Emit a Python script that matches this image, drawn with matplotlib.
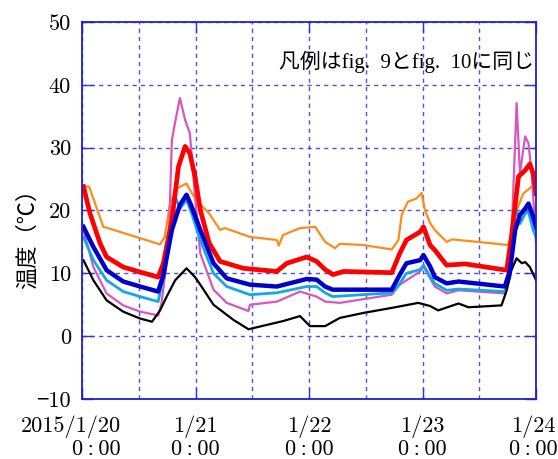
import matplotlib
matplotlib.use("Agg")
import matplotlib.pyplot as plt
import matplotlib.transforms as mtransforms

plt.rcParams["font.family"] = ["cmr10", "Noto Sans CJK JP", "DejaVu Serif"]
plt.rcParams["axes.unicode_minus"] = True

# hours since 2015/1/20 0:00, temperature in deg C
t_orange = [0.3, 1.5, 4.5, 5.9, 16.5, 17.5, 18.6, 20.0, 22.1, 22.8, 24.1, 26.9, 29.2, 30.2,
            35.5, 41.2, 41.6, 42.5, 46.1, 49.3, 50.7, 51.4, 53.5, 54.5, 59.5, 65.5, 66.9,
            67.6, 68.9, 70.7, 71.8, 72.5, 73.6, 74.6, 77.1, 78.2, 83.8, 90.1, 90.8, 91.9,
            93.3, 95.1, 96.0]
v_orange = [23.8, 23.8, 17.4, 17.1, 14.6, 15.8, 21.1, 23.5, 24.3, 23.3, 21.7, 19.5, 16.9, 17.2,
            15.8, 15.3, 14.4, 16.1, 17.2, 17.4, 15.8, 15.0, 14.0, 14.7, 14.5, 13.8, 15.3,
            19.3, 21.4, 21.9, 22.8, 20.1, 18.0, 16.9, 15.0, 15.4, 15.0, 14.5, 15.8, 20.0,
            22.7, 23.8, 24.0]

t_red = [0.3, 1.7, 3.8, 5.2, 8.7, 12.3, 16.1, 17.2, 19.0, 20.4, 21.8, 22.8, 23.9, 25.0,
         26.9, 29.2, 34.1, 41.2, 43.3, 47.5, 49.6, 51.4, 53.1, 55.3, 65.5, 67.2, 68.6,
         71.5, 72.2, 73.6, 74.6, 77.1, 81.0, 89.8, 90.8, 92.3, 93.0, 93.7, 94.7, 95.4, 96.0]
v_red = [23.8, 19.5, 14.8, 12.6, 11.0, 10.2, 9.4, 11.6, 18.5, 27.0, 30.2, 29.1, 25.4, 20.1,
         14.8, 11.9, 10.8, 10.3, 11.6, 12.6, 11.9, 10.6, 9.8, 10.3, 10.1, 13.2, 15.3,
         16.6, 17.4, 14.5, 13.7, 11.3, 11.5, 10.5, 15.8, 25.4, 25.9, 26.4, 27.4, 25.9, 22.7]

t_blue = [0.3, 2.4, 5.2, 8.7, 12.3, 16.1, 17.2, 19.0, 20.7, 22.1, 23.2, 25.0, 27.8, 30.6,
          35.5, 41.2, 47.5, 49.6, 51.4, 53.0, 65.5, 67.2, 68.6, 71.5, 72.2, 73.6, 74.6,
          77.1, 79.6, 89.4, 90.5, 91.6, 92.6, 93.7, 94.4, 95.4, 96.0]
v_blue = [17.4, 14.2, 10.5, 8.7, 7.9, 7.1, 9.7, 16.9, 20.9, 22.5, 20.6, 16.9, 11.6, 9.2,
          8.2, 7.9, 9.1, 9.0, 7.9, 7.4, 7.4, 9.8, 11.6, 12.1, 12.9, 11.1, 9.4,
          8.4, 8.7, 7.9, 10.5, 16.9, 19.3, 20.3, 21.1, 19.0, 17.4]

t_cyan = [0.3, 2.4, 5.2, 8.7, 12.3, 16.1, 17.2, 18.6, 19.7, 20.7, 22.1, 23.2, 25.0, 27.8,
          30.6, 35.5, 41.2, 47.5, 49.6, 51.4, 53.0, 65.5, 67.2, 68.6, 71.5, 72.2, 73.6,
          74.6, 77.1, 79.6, 89.4, 90.5, 91.6, 92.6, 93.7, 94.4, 95.4, 96.0]
v_cyan = [15.8, 12.1, 8.9, 7.1, 6.3, 5.5, 9.4, 16.9, 22.2, 20.3, 21.7, 19.5, 15.3, 10.0,
          7.9, 6.6, 6.9, 7.9, 7.9, 6.9, 6.3, 6.9, 8.4, 10.0, 10.6, 11.3, 9.5,
          8.4, 7.3, 7.5, 7.1, 9.4, 20.9, 17.9, 19.5, 19.8, 16.9, 15.8]

t_magenta = [0.3, 2.4, 5.2, 8.7, 12.3, 16.1, 16.8, 18.3, 19.0, 19.7, 20.7, 21.8, 22.8,
             23.9, 25.0, 27.8, 30.6, 35.2, 35.5, 41.2, 46.1, 49.6, 51.4, 54.5, 65.5, 67.2,
             71.5, 72.2, 73.6, 74.6, 77.1, 79.6, 89.4, 90.5, 91.2, 91.9, 92.6, 93.7, 94.4,
             95.1, 96.0]
v_magenta = [16.9, 11.0, 6.8, 4.9, 3.9, 3.3, 5.2, 14.2, 31.2, 34.1, 37.9, 34.4, 32.3,
             22.2, 13.2, 7.4, 5.3, 4.0, 5.0, 5.5, 7.1, 6.3, 5.5, 5.3, 6.6, 8.2,
             10.3, 11.1, 9.2, 7.9, 6.8, 7.3, 6.8, 9.4, 23.3, 37.1, 25.9, 31.8, 30.7,
             25.9, 14.8]

t_black = [0.3, 2.4, 5.2, 8.7, 12.3, 14.8, 16.5, 17.9, 19.7, 22.1, 23.9, 25.0, 27.8, 32.0,
           35.2, 39.1, 42.5, 46.1, 48.2, 51.4, 54.5, 59.5, 65.5, 71.1, 73.6, 75.3, 79.6,
           81.7, 88.7, 89.8, 90.8, 91.9, 93.0, 93.7, 94.7, 96.0]
v_black = [12.1, 8.9, 5.7, 3.9, 2.8, 2.3, 4.1, 6.3, 8.9, 10.8, 9.4, 8.2, 5.0, 2.6,
           1.1, 1.8, 2.4, 3.2, 1.6, 1.6, 2.9, 3.7, 4.5, 5.3, 4.8, 4.1, 5.2,
           4.6, 4.9, 7.3, 10.5, 12.4, 11.6, 11.8, 11.0, 8.9]

x_ticks = [0, 24, 48, 72, 96]
hm = "0\u2009:\u200900"
x_labels = ["2015/1/20\n" + hm, "1/21\n" + hm, "1/22\n" + hm, "1/23\n" + hm, "1/24\n" + hm]
y_ticks = [-10, 0, 10, 20, 30, 40, 50]
y_labels = ["−10", "0", "10", "20", "30", "40", "50"]

grid_c = "#3030e0"
fig = plt.figure(figsize=(5.58, 4.59), dpi=100)
ax = fig.add_axes([0.147, 0.1307, 0.8136, 0.8214])

ax.plot(t_orange, v_orange, color="#ff8c1a", lw=1.6)
ax.plot(t_magenta, v_magenta, color="#d957bb", lw=1.6)
ax.plot(t_cyan, v_cyan, color="#10a8e8", lw=2.0)
ax.plot(t_black, v_black, color="black", lw=1.6)
ax.plot(t_red, v_red, color="#ff0000", lw=3.4)
ax.plot(t_blue, v_blue, color="#0000cc", lw=3.2)

ax.set_xlim(0, 96)
ax.set_ylim(-10, 50)
ax.set_xticks(x_ticks)
ax.set_xticks(range(12, 96, 24), minor=True)
ax.set_xticklabels(x_labels, fontsize=16, linespacing=1.1)
ax.set_yticks(y_ticks)
ax.set_yticklabels(y_labels, fontsize=16)

ax.grid(True, which="both", color=grid_c, ls=(0, (3, 3)), lw=1.0, alpha=0.85)
ax.tick_params(which="major", direction="in", length=8, color=grid_c, width=1.0,
               top=True, right=True)
ax.tick_params(axis="x", pad=12)
ax.tick_params(axis="y", pad=8)
ax.tick_params(which="minor", length=0)
for s in ax.spines.values():
    s.set_color("#2020d0")
    s.set_linewidth(1.3)

labels = ax.get_xticklabels()
first = labels[0]
first.set_ha("right")
first.set_multialignment("right")
first.set_transform(first.get_transform()
                    + mtransforms.ScaledTranslation(0.39, 0, fig.dpi_scale_trans))
last = labels[-1]
last.set_transform(last.get_transform()
                   + mtransforms.ScaledTranslation(-0.03, 0, fig.dpi_scale_trans))

ax.set_ylabel("温度（℃）", fontsize=16, family=["Noto Sans CJK JP"])
ax.yaxis.set_label_coords(-0.095, 0.44)

ax.text(0.995, 0.895, "凡例はfig.  9とfig.  10に同じ", transform=ax.transAxes,
        ha="right", va="center", fontsize=15,
        family=["Liberation Serif", "Noto Sans CJK JP"])

fig.savefig("out.png", dpi=100)
